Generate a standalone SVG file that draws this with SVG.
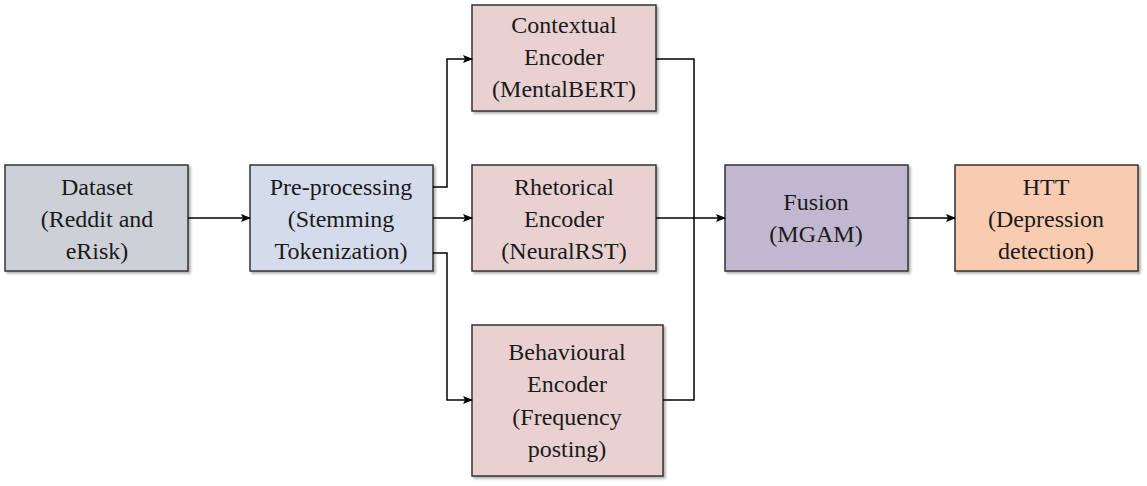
<svg xmlns="http://www.w3.org/2000/svg" width="1147" height="486" viewBox="0 0 1147 486">
<defs>
<marker id="arr" markerWidth="10" markerHeight="8" refX="9" refY="4" orient="auto" markerUnits="userSpaceOnUse">
<path d="M0,0 L10,4 L0,8 L2,4 Z" fill="#000"/>
</marker>
<filter id="sh" x="-5%" y="-5%" width="115%" height="115%">
<feDropShadow dx="2" dy="2" stdDeviation="1" flood-color="#000" flood-opacity="0.3"/>
</filter>
</defs>
<style>
.box{stroke:#333;stroke-width:1.5;filter:url(#sh)}
.t{font-family:"Liberation Serif","Times New Roman",serif;font-size:24px;fill:#1a1a1a;text-anchor:middle}
.c{fill:none;stroke:#000;stroke-width:1.5}
</style>
<rect width="1147" height="486" fill="#fff"/>
<g id="dataset">
<rect class="box" x="5" y="165" width="183" height="106" fill="#cdd0d7"/>
<text class="t" x="97" y="195">Dataset</text>
<text class="t" x="97" y="227">(Reddit and</text>
<text class="t" x="97" y="259">eRisk)</text>
</g>
<g id="preprocessing">
<rect class="box" x="250" y="165" width="183" height="106" fill="#d4dcec"/>
<text class="t" x="341" y="195">Pre-processing</text>
<text class="t" x="341" y="227">(Stemming</text>
<text class="t" x="341" y="259">Tokenization)</text>
</g>
<g id="contextual">
<rect class="box" x="472" y="5" width="184" height="106" fill="#e9d1d2"/>
<text class="t" x="564" y="33">Contextual</text>
<text class="t" x="564" y="65">Encoder</text>
<text class="t" x="564" y="97">(MentalBERT)</text>
</g>
<g id="rhetorical">
<rect class="box" x="472" y="165" width="184" height="106" fill="#e9d1d2"/>
<text class="t" x="564" y="195">Rhetorical</text>
<text class="t" x="564" y="227">Encoder</text>
<text class="t" x="564" y="259">(NeuralRST)</text>
</g>
<g id="behavioural">
<rect class="box" x="472" y="325" width="191" height="151" fill="#e9d1d2"/>
<text class="t" x="567" y="360">Behavioural</text>
<text class="t" x="567" y="392">Encoder</text>
<text class="t" x="567" y="425">(Frequency</text>
<text class="t" x="567" y="457">posting)</text>
</g>
<g id="fusion">
<rect class="box" x="725" y="165" width="183" height="106" fill="#c1b7d0"/>
<text class="t" x="816" y="210">Fusion</text>
<text class="t" x="816" y="242">(MGAM)</text>
</g>
<g id="htt">
<rect class="box" x="955" y="165" width="183" height="106" fill="#f9cbb1"/>
<text class="t" x="1046" y="195">HTT</text>
<text class="t" x="1046" y="227">(Depression</text>
<text class="t" x="1046" y="259">detection)</text>
</g>
<g id="connectors">
<path class="c" d="M188,218 H250" marker-end="url(#arr)"/>
<path class="c" d="M433,187 H447 V59 H472" marker-end="url(#arr)"/>
<path class="c" d="M433,218 H472" marker-end="url(#arr)"/>
<path class="c" d="M433,253 H447 V400 H472" marker-end="url(#arr)"/>
<path class="c" d="M656,59 H694 V400 H663"/>
<path class="c" d="M656,218 H725" marker-end="url(#arr)"/>
<path class="c" d="M908,218 H955" marker-end="url(#arr)"/>
</g>
</svg>
